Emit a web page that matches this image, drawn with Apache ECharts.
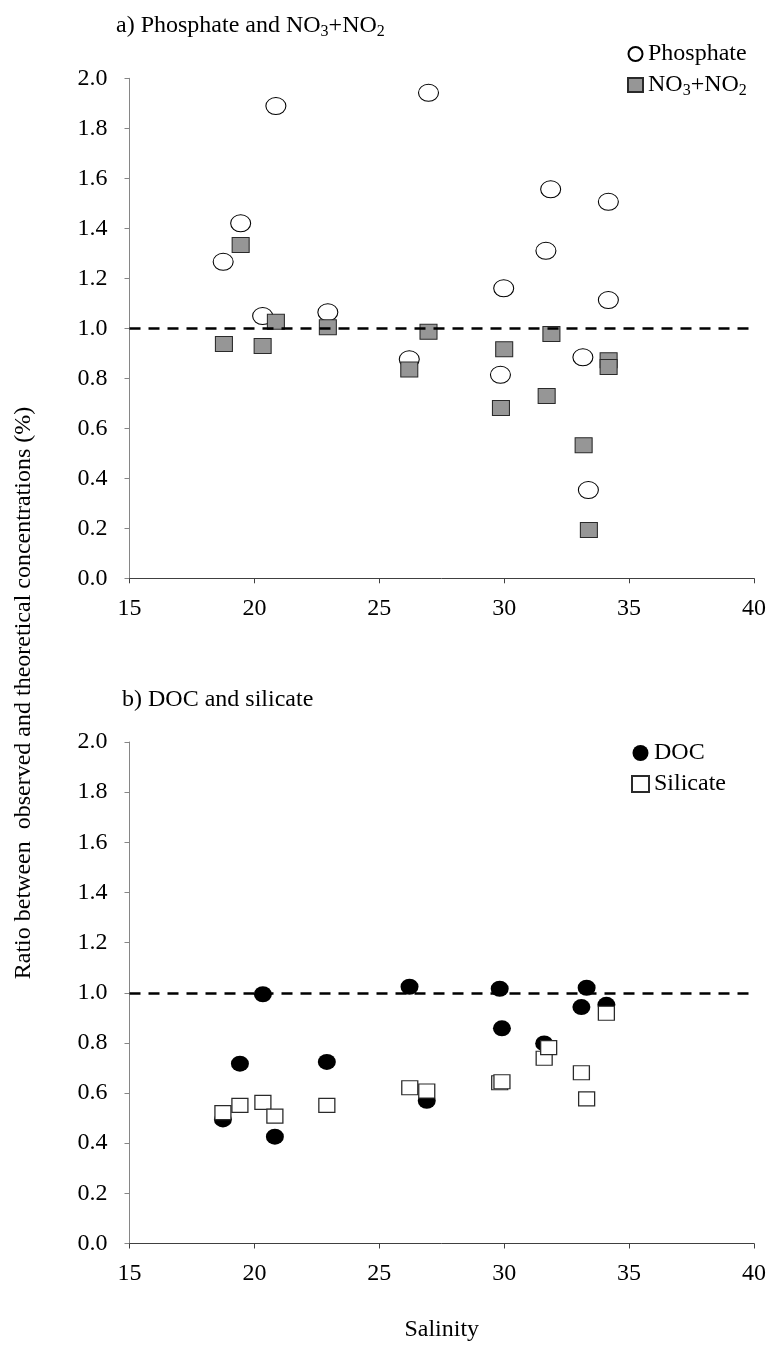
<!DOCTYPE html>
<html>
<head>
<meta charset="utf-8">
<script src="https://cdn.jsdelivr.net/npm/echarts@6/dist/echarts.min.js"></script>
<style>html,body{margin:0;padding:0;background:#fff}#c{width:778px;height:1353px}</style>
</head>
<body>
<div id="c"></div>
<script>
// ---- data ----
const salinityMin = 15, salinityMax = 40, salinityStep = 5;
const ratioMin = 0, ratioMax = 2, ratioStep = 0.2;
const referenceRatio = 1.0;

// panel a
const phosphate = [[18.75,1.266],[19.45,1.42],[20.33,1.049],[20.86,1.889],[22.94,1.064],[26.2,0.876],[26.97,1.942],[29.85,0.814],[29.98,1.16],[31.67,1.31],[31.86,1.556],[33.15,0.884],[33.37,0.353],[34.17,1.506],[34.17,1.113]];
const no3no2 = [[18.78,0.937],[19.45,1.333],[20.33,0.929],[20.86,1.026],[22.94,1.004],[26.2,0.835],[26.97,0.986],[29.87,0.681],[30.0,0.916],[31.7,0.729],[31.89,0.977],[33.18,0.532],[33.39,0.193],[34.18,0.872],[34.18,0.845]];

// panel b
const doc = [[18.74,0.495],[19.42,0.717],[20.34,0.994],[20.82,0.426],[22.9,0.724],[26.21,1.024],[26.9,0.569],[29.82,1.016],[29.91,0.858],[31.6,0.798],[33.09,0.943],[33.3,1.02],[34.09,0.952]];
const silicate = [[18.74,0.522],[19.42,0.551],[20.34,0.563],[20.82,0.508],[22.9,0.551],[26.22,0.621],[26.9,0.608],[29.82,0.641],[29.91,0.645],[31.6,0.739],[31.78,0.781],[33.09,0.681],[33.3,0.577],[34.09,0.918]];

const titleA = 'a) Phosphate and NO3+NO2';
const titleB = 'b) DOC and silicate';
const yName = 'Ratio between  observed and theoretical concentrations (%)';
const xName = 'Salinity';

// ---- chart ----
const FONT = '"Liberation Serif","Times New Roman",serif';
const rich = {
  n: {fontFamily: FONT, fontSize: 24, fontWeight: 'normal', color: '#000', lineHeight: 28, verticalAlign: 'middle'},
  s: {fontFamily: FONT, fontSize: 16, fontWeight: 'normal', color: '#000', lineHeight: 16, verticalAlign: 'bottom'}
};
function sub(t) {
  return t.split(/(\d)(?=\+|$)/).filter(x => x !== '').map(p => /^\d$/.test(p) ? '{s|' + p + '}' : '{n|' + p + '}').join('');
}

function xAxis(gi, withName) {
  return {
    gridIndex: gi, type: 'value', min: salinityMin, max: salinityMax, interval: salinityStep,
    axisLine: {show: true, onZero: false, lineStyle: {color: '#404040', width: 1}},
    axisTick: {show: true, length: 5, lineStyle: {color: '#404040'}},
    splitLine: {show: false},
    axisLabel: {fontFamily: FONT, fontSize: 24, color: '#000', margin: 18},
    name: withName ? xName : '', nameLocation: 'middle', nameGap: 74,
    nameTextStyle: {fontFamily: FONT, fontSize: 24, color: '#000'}
  };
}
function yAxis(gi) {
  return {
    gridIndex: gi, type: 'value', min: ratioMin, max: ratioMax, interval: ratioStep,
    axisLine: {show: true, lineStyle: {color: '#868686', width: 1}},
    axisTick: {show: true, length: 5, lineStyle: {color: '#868686'}},
    splitLine: {show: false},
    axisLabel: {fontFamily: FONT, fontSize: 24, color: '#000', margin: 22, formatter: v => v.toFixed(1)}
  };
}
function refLine(gi) {
  return {
    type: 'scatter', xAxisIndex: gi, yAxisIndex: gi, data: [], z: 10, silent: true,
    markLine: {
      silent: true, symbol: ['none', 'none'], label: {show: false},
      lineStyle: {color: '#000', width: 2.5, type: [11, 8]},
      data: [{yAxis: referenceRatio}]
    }
  };
}

const chart = echarts.init(document.getElementById('c'), null, {renderer: 'canvas'});
chart.setOption({
  animation: false,
  backgroundColor: '#fff',
  title: [
    {text: sub(titleA), left: 116, top: 12, padding: 0, textStyle: {fontWeight: 'normal', rich: rich}},
    {text: '{n|' + titleB + '}', left: 122, top: 686, padding: 0, textStyle: {fontWeight: 'normal', rich: rich}}
  ],
  grid: [
    {left: 129.5, width: 624.5, top: 78.3, height: 500},
    {left: 129.5, width: 624.5, top: 742, height: 501.5}
  ],
  xAxis: [xAxis(0, false), xAxis(1, true)],
  yAxis: [yAxis(0), yAxis(1)],
  legend: [
    {
      data: [{name: 'Phosphate', icon: 'circle'}, {name: 'NO3+NO2', icon: 'rect'}],
      orient: 'vertical', left: 627, top: 42, padding: 0, itemWidth: 15, itemHeight: 14, itemGap: 7, align: 'left',
      formatter: name => sub(name),
      textStyle: {rich: rich}
    },
    {
      data: [{name: 'DOC', icon: 'circle'}, {name: 'Silicate', icon: 'rect'}],
      orient: 'vertical', left: 631, top: 741, padding: 0, itemWidth: 17, itemHeight: 16, itemGap: 7, align: 'left',
      formatter: name => '{n|' + name + '}',
      textStyle: {rich: rich}
    }
  ],
  graphic: [{
    type: 'text', x: 24, y: 693, rotation: Math.PI / 2,
    style: {text: yName, font: '24px ' + FONT, fill: '#000', align: 'center', verticalAlign: 'middle'}
  }],
  series: [
    {
      name: 'Phosphate', type: 'scatter', xAxisIndex: 0, yAxisIndex: 0, data: phosphate,
      symbol: 'circle', symbolSize: [20, 17], z: 2,
      itemStyle: {color: '#fff', borderColor: '#000', borderWidth: 1, opacity: 1}
    },
    {
      name: 'NO3+NO2', type: 'scatter', xAxisIndex: 0, yAxisIndex: 0, data: no3no2,
      symbol: 'rect', symbolSize: [17, 15], z: 3,
      itemStyle: {color: '#969696', borderColor: '#2a2a2a', borderWidth: 1, opacity: 1}
    },
    refLine(0),
    {
      name: 'DOC', type: 'scatter', xAxisIndex: 1, yAxisIndex: 1, data: doc,
      symbol: 'circle', symbolSize: [18, 16], z: 2,
      itemStyle: {color: '#000', borderWidth: 0, opacity: 1}
    },
    {
      name: 'Silicate', type: 'scatter', xAxisIndex: 1, yAxisIndex: 1, data: silicate,
      symbol: 'rect', symbolSize: [16, 14], z: 3,
      itemStyle: {color: '#fff', borderColor: '#2a2a2a', borderWidth: 1.2, opacity: 1}
    },
    refLine(1)
  ]
});
</script>
</body>
</html>
